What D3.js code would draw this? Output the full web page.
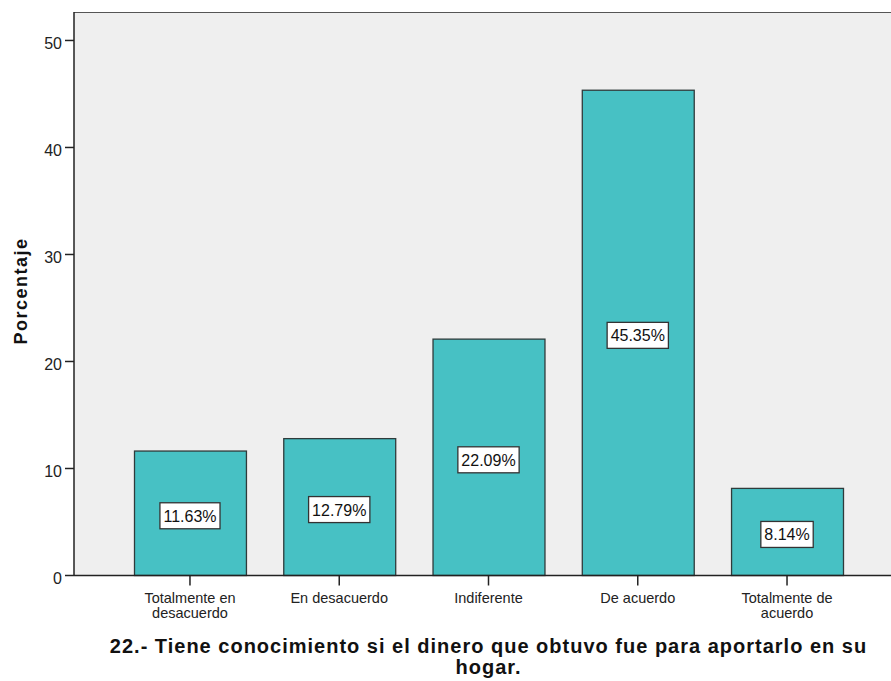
<!DOCTYPE html>
<html>
<head>
<meta charset="utf-8">
<script src="https://cdn.jsdelivr.net/npm/d3@7"></script>
<style>
  body { margin: 0; background: #ffffff; }
  text { font-family: Arial, "Liberation Sans", sans-serif; }
</style>
</head>
<body>
<div id="canvas"></div>
<script>
"use strict";

/* Data */
let categories = ["Totalmente en desacuerdo", "En desacuerdo", "Indiferente", "De acuerdo", "Totalmente de acuerdo"];
let categoryLines = [["Totalmente en", "desacuerdo"], ["En desacuerdo"], ["Indiferente"], ["De acuerdo"], ["Totalmente de", "acuerdo"]];
let percents = [11.63, 12.79, 22.09, 45.35, 8.14];
let yTicks = [0, 10, 20, 30, 40, 50];
let titleLines = ["22.- Tiene conocimiento si el dinero que obtuvo fue para aportarlo en su", "hogar."];

/* SVG setup */
let svgWidth = 891;
let svgHeight = 681;
let plotLeft = 74;
let plotRight = 903;
let plotTop = 12;
let plotBottom = 575.5;

let svg = d3.select("#canvas")
  .append("svg")
  .attr("width", svgWidth)
  .attr("height", svgHeight);

/* Scales */
let xScale = d3.scaleBand()
  .domain(categories)
  .range([plotLeft, plotRight])
  .paddingInner(0.25)
  .paddingOuter(0.402);

let yScale = d3.scaleLinear()
  .domain([0, 52.66])
  .range([plotBottom, plotTop]);

/* Plot background */
svg.append("rect")
  .attr("x", plotLeft)
  .attr("y", plotTop)
  .attr("width", svgWidth - plotLeft)
  .attr("height", plotBottom - plotTop)
  .attr("fill", "#efefef");

// top border
svg.append("line")
  .attr("x1", plotLeft)
  .attr("x2", svgWidth)
  .attr("y1", plotTop + 0.5)
  .attr("y2", plotTop + 0.5)
  .attr("stroke", "#555");

/* Bars */
categories.forEach(function (c, i) {
  svg.append("rect")
    .attr("x", xScale(c) + 0.5)
    .attr("y", yScale(percents[i]))
    .attr("width", xScale.bandwidth())
    .attr("height", plotBottom - yScale(percents[i]))
    .attr("fill", "#47c1c4")
    .attr("stroke", "#2f3b3b")
    .attr("stroke-width", 1.3);
});

/* Value labels */
categories.forEach(function (c, i) {
  let cx = xScale(c) + xScale.bandwidth() / 2;
  let cy = (yScale(percents[i]) + plotBottom) / 2 + 2.5;
  let g = svg.append("g");
  let t = g.append("text")
    .attr("x", cx)
    .attr("y", cy + 6)
    .attr("text-anchor", "middle")
    .style("font-size", "16px")
    .attr("fill", "#111")
    .text(percents[i].toFixed(2) + "%");
  let w = t.node().getComputedTextLength() + 7;
  g.insert("rect", "text")
    .attr("x", cx - w / 2)
    .attr("y", cy - 13)
    .attr("width", w)
    .attr("height", 26)
    .attr("fill", "#ffffff")
    .attr("stroke", "#333")
    .attr("stroke-width", 1.3);
});

/* Axes */
// Y axis
svg.append("line")
  .attr("x1", plotLeft)
  .attr("x2", plotLeft)
  .attr("y1", plotTop)
  .attr("y2", plotBottom)
  .attr("stroke", "#222")
  .attr("stroke-width", 1.5);

yTicks.forEach(function (v) {
  let y = yScale(v);
  svg.append("line")
    .attr("x1", plotLeft - 9)
    .attr("x2", plotLeft)
    .attr("y1", y)
    .attr("y2", y)
    .attr("stroke", "#222")
    .attr("stroke-width", 1.5);
  svg.append("text")
    .attr("x", plotLeft - 12)
    .attr("y", y + 8.5)
    .attr("text-anchor", "end")
    .style("font-size", "16px")
    .attr("fill", "#222")
    .text(v);
});

// X axis
svg.append("line")
  .attr("x1", plotLeft)
  .attr("x2", svgWidth)
  .attr("y1", plotBottom)
  .attr("y2", plotBottom)
  .attr("stroke", "#222")
  .attr("stroke-width", 1.5);

categories.forEach(function (c, i) {
  let cx = xScale(c) + xScale.bandwidth() / 2;
  svg.append("line")
    .attr("x1", cx)
    .attr("x2", cx)
    .attr("y1", plotBottom)
    .attr("y2", plotBottom + 10)
    .attr("stroke", "#222")
    .attr("stroke-width", 1.5);
  categoryLines[i].forEach(function (line, j) {
    svg.append("text")
      .attr("x", cx)
      .attr("y", 602.5 + j * 15.5)
      .attr("text-anchor", "middle")
      .style("font-size", "14.5px")
      .attr("fill", "#222")
      .text(line);
  });
});

/* Axis titles */
svg.append("text")
  .attr("transform", "rotate(-90)")
  .attr("x", -291)
  .attr("y", 27)
  .attr("text-anchor", "middle")
  .style("font-size", "18px")
  .style("font-weight", "bold")
  .style("letter-spacing", "1.5px")
  .attr("fill", "#111")
  .text("Porcentaje");

titleLines.forEach(function (line, j) {
  svg.append("text")
    .attr("x", (plotLeft + plotRight) / 2)
    .attr("y", 653 + j * 21)
    .attr("text-anchor", "middle")
    .style("font-size", "20px")
    .style("font-weight", "bold")
    .style("letter-spacing", "1px")
    .attr("fill", "#111")
    .text(line);
});
</script>
</body>
</html>
